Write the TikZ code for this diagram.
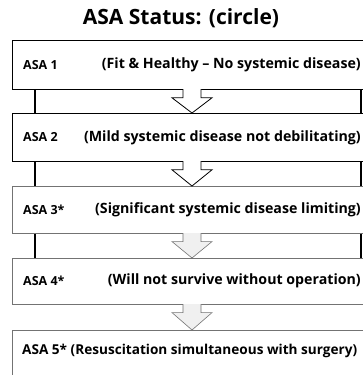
\documentclass[tikz,border=0pt]{standalone}
\usepackage{fontspec}
\setmainfont{Open Sans}
\usetikzlibrary{calc}

\begin{document}
\begin{tikzpicture}[x=1pt,y=-1pt,
    asabox/.style={draw,line width=0.8pt,anchor=north west,
      minimum width=354pt,inner sep=0pt},
    faintbox/.style={asabox,draw=black!55,line width=0.6pt},
    asalabel/.style={font=\fontsize{12.5}{15}\selectfont\bfseries,inner sep=0pt},
    asadesc/.style={font=\fontsize{14.2}{17}\selectfont\bfseries,inner sep=0pt},
    bar/.style={line width=2.6pt},
    downarrow/.style={draw,fill=white,line width=0.8pt,line join=miter},
    faintarrow/.style={downarrow,draw=black!55,fill=black!6,line width=0.6pt}]

    \useasboundingbox (0,0) rectangle (363,375);
    \fill[white] (0,0) rectangle (363,375);

    \node[font=\fontsize{21}{24}\selectfont\bfseries] (title) at (181,18)
      {ASA Status: (circle)};

    % the five grades
    \foreach \i/\top/\h/\sty in {1/40/49/asabox,2/113/48/asabox,
      3/186/47/faintbox,4/258/46/faintbox,5/330/48/faintbox}
      \node[\sty,minimum height=\h pt] (box\i) at (12,\top) {};

    \foreach \i/\lab/\desc in {1/ASA 1/(Fit \& Healthy -- No systemic disease),
      2/ASA 2/(Mild systemic disease not debilitating),
      3/ASA 3*/(Significant systemic disease limiting),
      4/ASA 4*/(Will not survive without operation)} {
      \node[asalabel,anchor=west] (lab\i) at ($(box\i.west)+(11,0)$) {\lab};
      \node[asadesc,anchor=east] (desc\i) at (361,0 |- box\i.west) {\desc};
    }
    \node[asadesc,anchor=west,font=\fontsize{13.6}{16}\selectfont\bfseries] (lab5)
      at ($(box5.west)+(10,-3)$)
      {ASA 5* (Resuscitation simultaneous with surgery)};

    % side bars
    \foreach \i/\j in {1/2,2/3,3/4} {
      \draw[bar] ($(box\i.south west)+(23,0)$) -- ($(box\j.north west)+(23,0)$);
      \draw[bar] ($(box\i.south west)+(349,0)$) -- ($(box\j.north west)+(349,0)$);
    }

    % arrows between grades
    \foreach \i/\j/\sty in {1/2/downarrow,2/3/downarrow,3/4/faintarrow,4/5/faintarrow}
      \draw[\sty] let \p1=(box\i.south), \p2=(box\j.north) in
        (183pt,\y1+0.6pt) -- (183pt,\y1-8pt) -- (172pt,\y1-8pt) -- (192pt,\y2)
        -- (212pt,\y1-8pt) -- (201pt,\y1-8pt) -- (201pt,\y1+0.6pt);
  \end{tikzpicture}
\end{document}
